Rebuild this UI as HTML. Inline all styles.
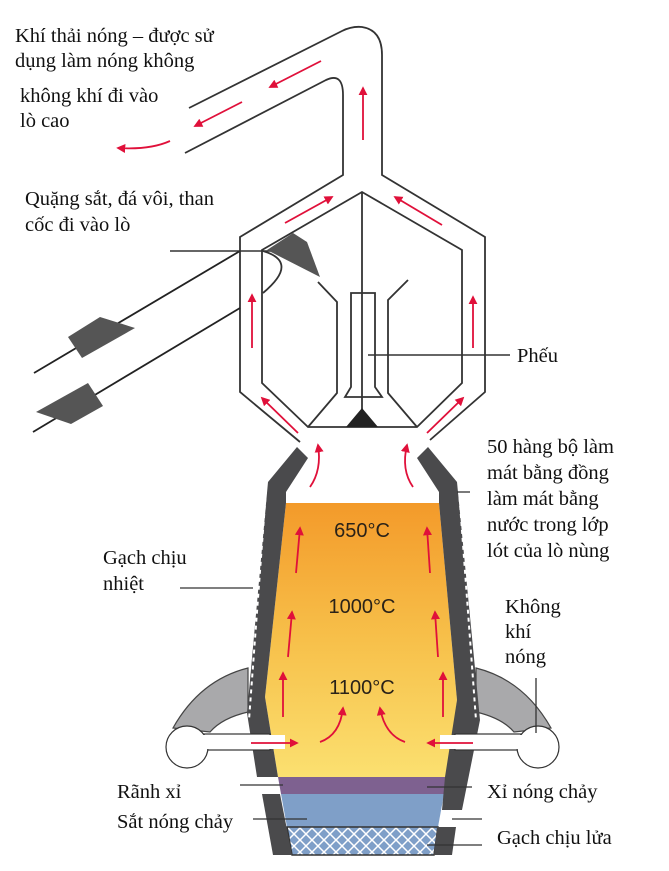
<!DOCTYPE html>
<html><head><meta charset="utf-8"><style>
html,body{margin:0;padding:0;background:#fff;}
svg{display:block;}
text{font-family:"Liberation Serif",serif;font-size:20.5px;fill:#111;}
.t{font-family:"Liberation Sans",sans-serif;font-size:20px;fill:#2a2218;}
</style></head><body>
<svg width="669" height="871" viewBox="0 0 669 871" xmlns="http://www.w3.org/2000/svg">
<defs>
<linearGradient id="og" x1="0" y1="0" x2="0" y2="1">
<stop offset="0" stop-color="#f39a2a"/><stop offset="0.5" stop-color="#f7c04a"/><stop offset="1" stop-color="#fbe070"/>
</linearGradient>
<pattern id="hatch" width="12" height="12" patternUnits="userSpaceOnUse">
<rect width="12" height="12" fill="#7f9fc8"/>
<path d="M0 0L12 12M12 0L0 12" stroke="#fff" stroke-width="1.5"/>
</pattern>
<marker id="ah" viewBox="0 0 10 10" refX="8" refY="5" markerWidth="5" markerHeight="5" orient="auto">
<path d="M0 0L10 5L0 10z" fill="#e0103a"/></marker>
</defs>

<g fill="none" stroke="#333" stroke-width="1.8">
<path d="M189 108 L342 31 Q352 26 362 27 Q382 30 382 55 L382 175 L485 237 L485 392 L430 440"/>
<path d="M185 153 L326 80 Q343 72 343 95 L343 175 L240 237 L240 392 L300 442"/>
<path d="M362 192 L262 250 L262 383 L308 427 L417 427 L462 383 L462 250 Z"/>
<path d="M362 192 L362 427"/>
<path d="M318 282 L337 302 L337 393 L308 427"/>
<path d="M408 280 L388 300 L388 393 L417 427"/>
<path d="M351 387 L351 293 L375 293 L375 387 L382 397 L345 397 Z"/>
<path d="M368 355 L510 355" stroke-width="1.4"/>
<path d="M34 373 L240 251" stroke="#222"/>
<path d="M33 432 L240 308" stroke="#222"/>
<path d="M170 251 L302 251" stroke-width="1.4"/>
<path d="M263 251 Q300 262 263 293"/>
</g>
<polygon points="346,427 378,427 362,408" fill="#222"/>
<polygon points="267,250 293,233 307,242 320,277" fill="#555"/>
<polygon points="68,337 100,317 135,328 82,358" fill="#555"/>
<polygon points="36,412 88,383 103,406 71,424" fill="#555"/>

<path d="M173 728 Q200 680 248 668 L248 712 Q222 718 210 732 Z" fill="#a9a9ab" stroke="#444" stroke-width="1.2"/>
<path d="M551 728 Q524 680 476 668 L476 712 Q502 718 514 732 Z" fill="#a9a9ab" stroke="#444" stroke-width="1.2"/>

<polygon points="286,503 439,503 457,700 447,777 278,777 265,697" fill="url(#og)"/>
<polygon points="278,777 447,777 444,794 281,794" fill="#7e6190"/>
<polygon points="281,794 444,794 438,827 287,827" fill="#7f9fc8"/>
<polygon points="287,827 438,827 434,855 292,855" fill="url(#hatch)" stroke="#333" stroke-width="1.5"/>

<polygon points="297,447 308,458 286,492 286,503 265,697 278,777 257,777 247,713 268,482" fill="#4a4a4c"/>
<polygon points="428,447 417,458 439,492 439,503 457,700 445,777 442,810 462,810 480,720 457,482" fill="#4a4a4c"/>
<polygon points="262,794 280,794 292,855 273,855" fill="#4a4a4c"/>
<polygon points="437,827 456,827 452,855 434,855" fill="#4a4a4c"/>
<path d="M266 490 L249 720" stroke="#fff" stroke-width="2" stroke-dasharray="4 4" fill="none"/>
<path d="M459 490 L476 720" stroke="#fff" stroke-width="2" stroke-dasharray="4 4" fill="none"/>

<rect x="190" y="734" width="80" height="16" fill="#fff" stroke="#333" stroke-width="1.2"/>
<rect x="455" y="734" width="80" height="16" fill="#fff" stroke="#333" stroke-width="1.2"/>
<rect x="255" y="735" width="30" height="14" fill="#fff"/>
<rect x="440" y="735" width="30" height="14" fill="#fff"/>
<circle cx="187" cy="747" r="21" fill="#fff" stroke="#333" stroke-width="1.2"/>
<circle cx="538" cy="747" r="21" fill="#fff" stroke="#333" stroke-width="1.2"/>
<rect x="200" y="735" width="30" height="14" fill="#fff"/>
<rect x="495" y="735" width="30" height="14" fill="#fff"/>

<g stroke="#e0103a" stroke-width="1.8" fill="none" marker-end="url(#ah)">
<path d="M321 61 L270 87"/><path d="M242 102 L195 126"/>
<path d="M170 141 Q150 150 118 148"/>
<path d="M363 140 L363 88"/>
<path d="M285 223 L332 197"/><path d="M442 225 L395 197"/>
<path d="M252 348 L252 295"/><path d="M473 348 L473 297"/>
<path d="M298 433 L262 398"/><path d="M427 433 L463 398"/>
<path d="M310 487 Q322 470 318 445"/><path d="M413 487 Q401 470 407 445"/>
<path d="M296 573 L300 528"/><path d="M288 657 L292 612"/><path d="M283 717 L283 673"/>
<path d="M430 573 L427 528"/><path d="M438 657 L435 612"/><path d="M443 717 L443 673"/>
<path d="M251 743 L297 743"/><path d="M473 743 L428 743"/>
<path d="M320 742 Q340 735 343 708"/><path d="M405 742 Q385 735 380 708"/>
</g>

<g stroke="#333" stroke-width="1.3">
<path d="M180 588 L253 588"/><path d="M240 785 L283 785"/><path d="M253 819 L307 819"/>
<path d="M427 787 L472 787"/><path d="M452 819 L482 819"/><path d="M427 845 L482 845"/>
<path d="M457 492 L470 492"/><path d="M536 678 L536 733"/>
</g>

<text class="t" x="362" y="537" text-anchor="middle">650°C</text>
<text class="t" x="362" y="613" text-anchor="middle">1000°C</text>
<text class="t" x="362" y="694" text-anchor="middle">1100°C</text>

<text x="15" y="42">Khí thải nóng – được sử</text>
<text x="15" y="67">dụng làm nóng không</text>
<text x="20" y="102">không khí đi vào</text>
<text x="20" y="127">lò cao</text>
<text x="25" y="205">Quặng sắt, đá vôi, than</text>
<text x="25" y="231">cốc đi vào lò</text>
<text x="517" y="362">Phếu</text>
<text x="487" y="453">50 hàng bộ làm</text>
<text x="487" y="479">mát bằng đồng</text>
<text x="487" y="505">làm mát bằng</text>
<text x="487" y="531">nước trong lớp</text>
<text x="487" y="557">lót của lò nùng</text>
<text x="103" y="564">Gạch chịu</text>
<text x="103" y="590">nhiệt</text>
<text x="505" y="613">Không</text>
<text x="505" y="638">khí</text>
<text x="505" y="663">nóng</text>
<text x="117" y="798">Rãnh xỉ</text>
<text x="117" y="828">Sắt nóng chảy</text>
<text x="487" y="798">Xỉ nóng chảy</text>
<text x="497" y="844">Gạch chịu lửa</text>
</svg>
</body></html>
